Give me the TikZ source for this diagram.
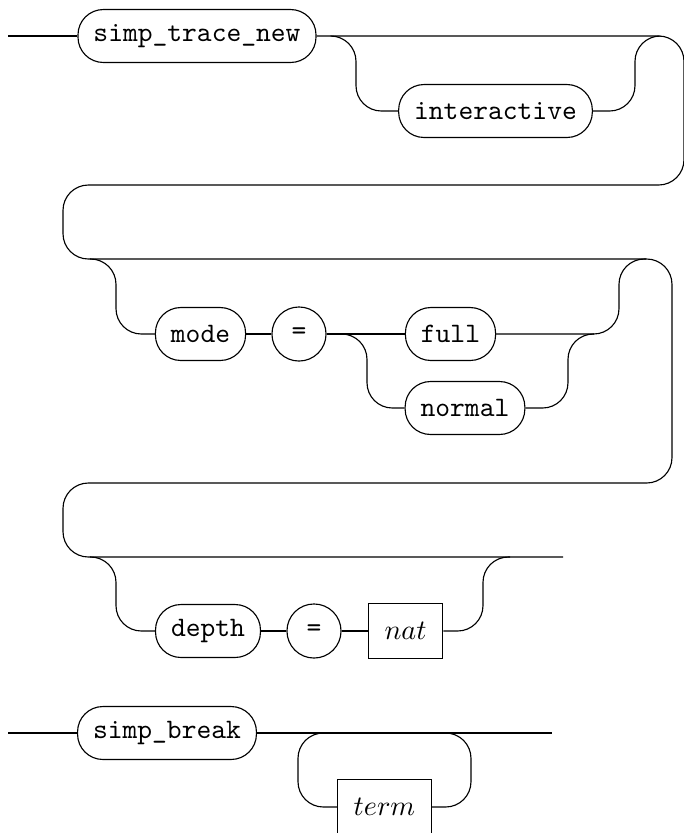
\documentclass[tikz,border=0pt]{standalone}
\usepackage{tikz}

\begin{document}
\begin{tikzpicture}[x=0.355pt,y=-0.355pt,
  kw/.style={draw, rounded corners=9pt, minimum height=18.8pt,
             inner xsep=5.5pt, inner ysep=0pt, font=\ttfamily},
  sym/.style={draw, circle, minimum size=19.2pt, inner sep=0pt, font=\ttfamily},
  nt/.style={draw, rectangle, minimum height=19.4pt, inner xsep=5.8pt, inner ysep=0pt},
  rail/.style={rounded corners=9pt}]

\useasboundingbox (0,0) rectangle (684,833);

% --- SIMP_TRACE_NEW ---
\coordinate (inA) at (8,36);
\node[kw] (trace) at (197,36) {simp\_trace\_new};
\node[kw] (inter) at (495.5,111) {interactive};
\coordinate (forkA) at (331,36);
\coordinate (dropA) at (356,36);
\coordinate (riseA) at (635,36);
\coordinate (meetA) at (660,36);

% --- WRAP POINTS OF THE MAIN RAIL ---
\coordinate (wrapA) at (684,36);
\coordinate (wrapB) at (684,185);
\coordinate (wrapC) at (63,185);
\coordinate (wrapD) at (63,259);
\coordinate (wrapE) at (672,259);
\coordinate (wrapF) at (672,483);
\coordinate (wrapG) at (63,483);
\coordinate (wrapH) at (63,557);
\coordinate (outA) at (563,557);

\draw (inA) -- (trace);
\draw[rail] (trace) -- (wrapA) -- (wrapB) -- (wrapC) -- (wrapD)
  -- (wrapE) -- (wrapF) -- (wrapG) -- (wrapH) -- (outA);

\draw[rail] (forkA) -- (dropA) |- (inter.west);
\draw[rail] (inter.east) -| (riseA) -- (meetA);

% --- MODE ---
\coordinate (forkC) at (90,259);
\coordinate (dropC) at (116,259);
\node[kw] (mode) at (200.5,334) {mode};
\node[sym] (eqC) at (299,334) {=};
\node[kw] (full) at (450.5,334) {full};
\node[kw] (normal) at (465,408) {normal};
\coordinate (forkN) at (342,334);
\coordinate (dropN) at (367,334);
\coordinate (riseN) at (568,334);
\coordinate (meetN) at (594,334);
\coordinate (riseC) at (619,259);
\coordinate (meetC) at (646,259);

\draw[rail] (forkC) -- (dropC) |- (mode.west);
\draw (mode) -- (eqC);
\draw (eqC) -- (full);
\draw[rail] (full.east) -| (riseC) -- (meetC);
\draw[rail] (forkN) -- (dropN) |- (normal.west);
\draw[rail] (normal.east) -| (riseN) -- (meetN);

% --- DEPTH ---
\coordinate (forkE) at (90,557);
\coordinate (dropE) at (116,557);
\node[kw] (depth) at (208,631) {depth};
\node[sym] (eqE) at (314,631) {=};
\node[nt] (nat) at (405.5,631) {$nat$};
\coordinate (riseE) at (483,557);
\coordinate (meetE) at (510,557);

\draw[rail] (forkE) -- (dropE) |- (depth.west);
\draw (depth) -- (eqE);
\draw (eqE) -- (nat);
\draw[rail] (nat.east) -| (riseE) -- (meetE);

% --- SIMP_BREAK ---
\coordinate (inF) at (8,733);
\node[kw] (brk) at (167,733) {simp\_break};
\coordinate (outF) at (552,733);
\node[nt] (term) at (384.5,807) {$term$};
\coordinate (loopL) at (298,733);
\coordinate (loopR) at (471,733);

\draw (inF) -- (brk);
\draw (brk) -- (outF);
\draw[rail] (term.west) -| (loopL) -- (loopR) |- (term.east);
\end{tikzpicture}
\end{document}
